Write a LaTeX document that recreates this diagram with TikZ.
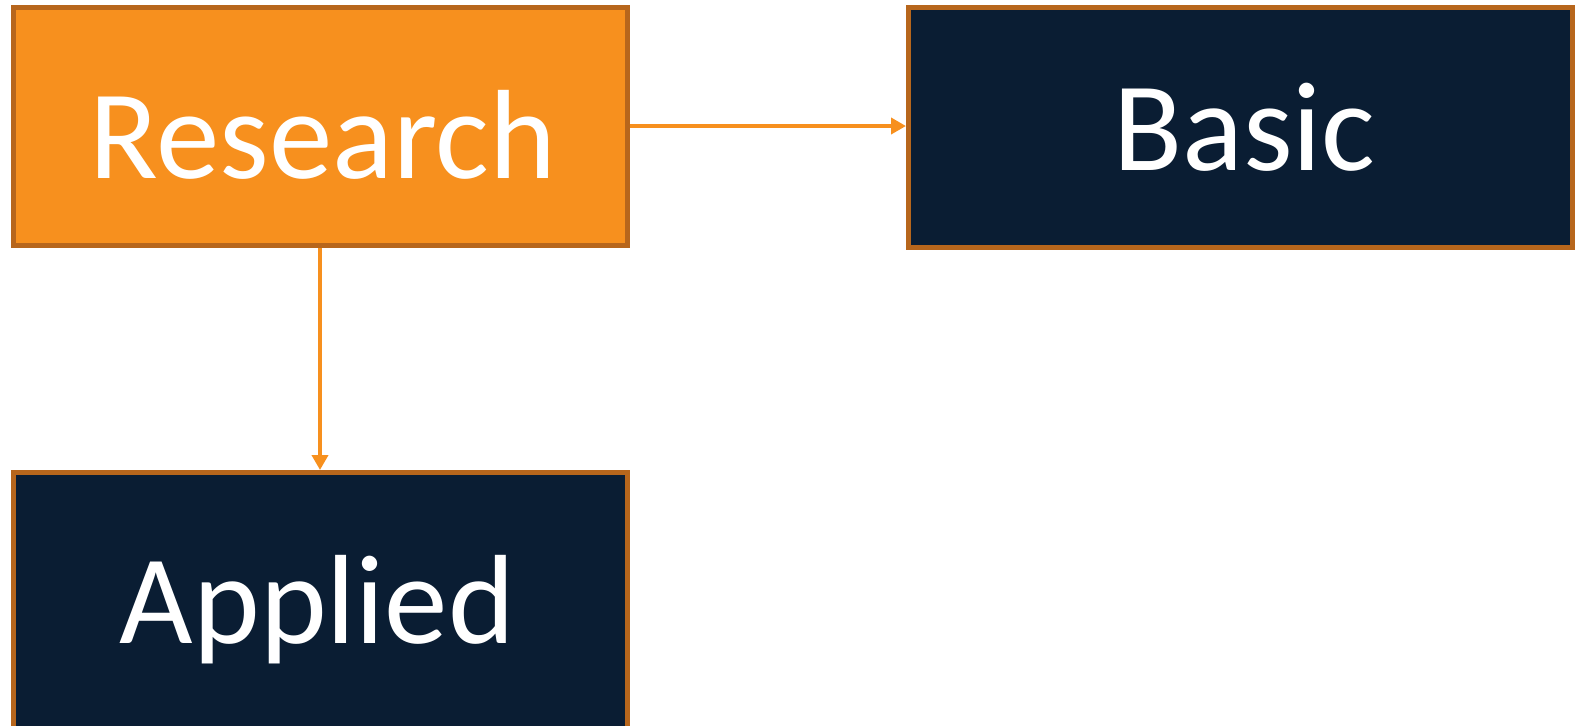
\documentclass[tikz,border=0pt]{standalone}
\usepackage{fontspec}
\setmainfont{Carlito}
\usetikzlibrary{arrows.meta}
\definecolor{boxorange}{HTML}{F7901E}
\definecolor{boxedge}{HTML}{B7661C}
\definecolor{boxnavy}{HTML}{0A1D33}
\tikzset{
  panel/.style={draw=boxedge, line width=2.5pt, inner sep=0pt, rectangle},
  hotpanel/.style={panel, fill=boxorange},
  darkpanel/.style={panel, fill=boxnavy},
  caption/.style={anchor=base, text=white, inner sep=0pt,
    font=\fontsize{63.5pt}{70pt}\selectfont},
  link/.style={draw=boxorange, line width=2.3pt,
    -{Triangle[length=7.5pt,width=8pt]}}
}
\begin{document}
\begin{tikzpicture}[x=0.5pt,y=-0.5pt]
  \useasboundingbox (0,0) rectangle (1575,725);
  \clip (0,0) rectangle (1575,725);
  % boxes
  \node[hotpanel, minimum width=307pt, minimum height=119pt] (research) at (320.5,126.5) {};
  \node[darkpanel, minimum width=332pt, minimum height=120pt] (basic) at (1240.5,127.5) {};
  \node[darkpanel, minimum width=307pt, minimum height=140pt] (applied) at (320.5,612.5) {};
  % labels
  \node[caption] (researchtxt) at (323,178.8) {Research};
  \node[caption] (basictxt) at (1244.5,170.8) {Basic};
  \node[caption] (appliedtxt) at (317.5,643) {Applied};
  % connectors
  \draw[link] (research.east |- 0,126) -- (basic.west |- 0,126);
  \draw[link] (research.south -| 320,0) -- (applied.north -| 320,0);
\end{tikzpicture}
\end{document}
